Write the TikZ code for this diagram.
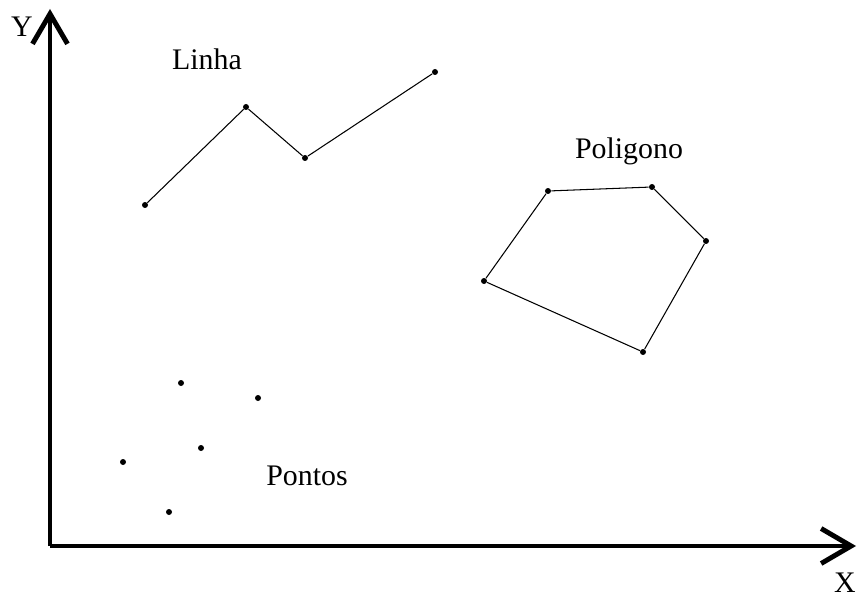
\documentclass[tikz,border=0pt]{standalone}
\usepackage{fontspec}
\setmainfont{Liberation Serif}
\usetikzlibrary{arrows.meta}

\begin{document}
\begin{tikzpicture}[
    x=0.02cm, y=-0.02cm,
    axis/.style={
        -{Straight Barb[length=0.6cm, width=0.7cm]},
        line width=2.8pt,
        draw=black
    },
    vertex/.style={
        circle,
        fill=black,
        inner sep=0pt,
        minimum size=0.12cm
    },
    edge/.style={
        draw=black,
        line width=0.6pt
    },
    lbl/.style={
        font=\fontsize{17}{20}\selectfont,
        inner sep=0pt
    }
]
\useasboundingbox (0,0) rectangle (858,601);

% Axes
\coordinate (origin) at (50,546);
\coordinate (ytop) at (50,9);
\coordinate (xend) at (856,546);
\draw [axis] (origin) -- (ytop);
\draw [axis] (origin) -- (xend);
\node (ylbl) [lbl] at (22,27) {Y};
\node (xlbl) [lbl] at (845,583) {X};

% Linha
\node (l1) [vertex] at (145,205) {};
\node (l2) [vertex] at (246,107) {};
\node (l3) [vertex] at (305,158) {};
\node (l4) [vertex] at (435,72) {};
\draw [edge] (l1) -- (l2) -- (l3) -- (l4);
\node (linha) [lbl] at (207,59) {Linha};

% Poligono
\node (p1) [vertex] at (548,191) {};
\node (p2) [vertex] at (652,187) {};
\node (p3) [vertex] at (706,241) {};
\node (p4) [vertex] at (643,352) {};
\node (p5) [vertex] at (484,281) {};
\draw [edge] (p1) -- (p2) -- (p3) -- (p4) -- (p5) -- (p1);
\node (poligono) [lbl] at (629,151) {Poligono};

% Pontos
\node (q1) [vertex] at (181,383) {};
\node (q2) [vertex] at (258,398) {};
\node (q3) [vertex] at (201,448) {};
\node (q4) [vertex] at (123,462) {};
\node (q5) [vertex] at (169,512) {};
\node (pontos) [lbl] at (307,476) {Pontos};

\end{tikzpicture}
\end{document}
